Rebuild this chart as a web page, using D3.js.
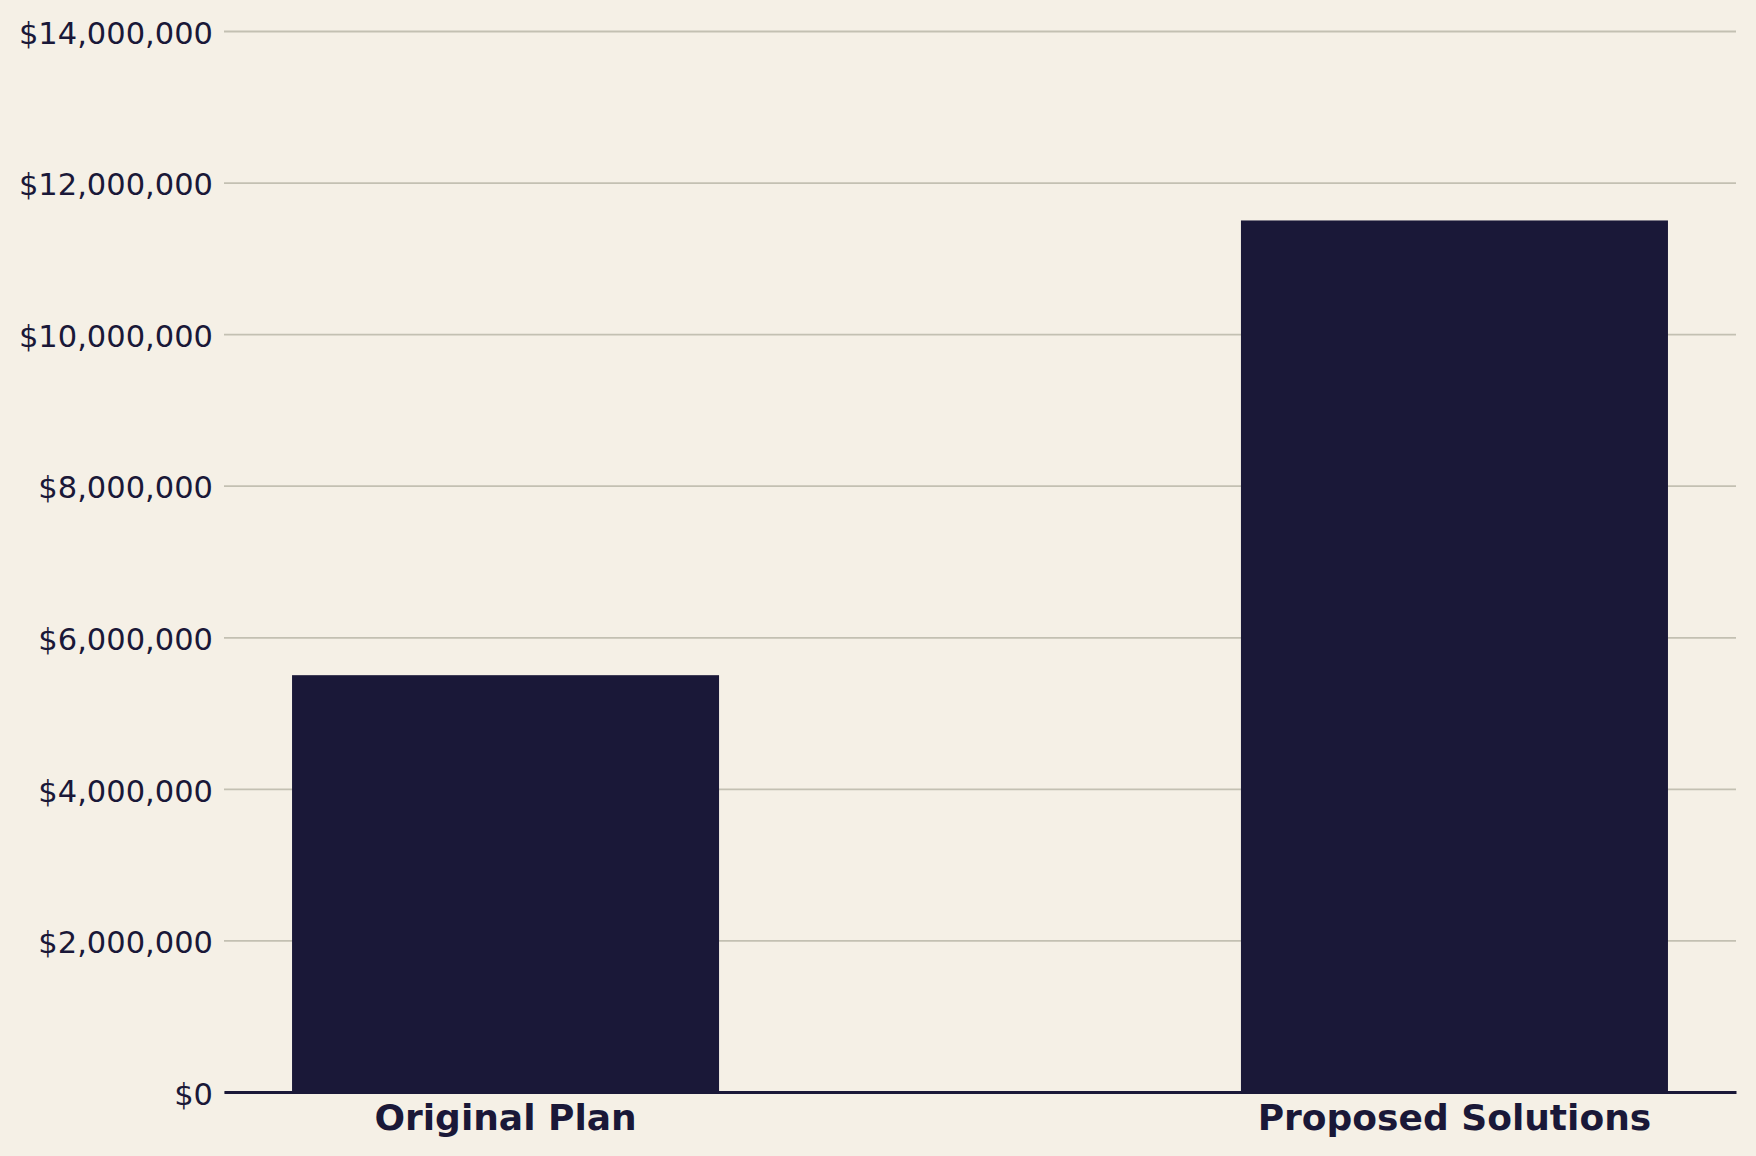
<!DOCTYPE html>
<html>
<head>
<meta charset="utf-8">
<script src="https://cdn.jsdelivr.net/npm/d3@7"></script>
<style>
	html, body { margin: 0; padding: 0; background: #f5f0e6; }
	svg { display: block; }
	.tick-label { font-family: "DejaVu Sans", sans-serif; font-size: 30.5px; fill: #1a1838; }
	.cat-label { font-family: "DejaVu Sans", sans-serif; font-size: 36px; font-weight: bold; fill: #1a1838; }
</style>
</head>
<body>
<div id="chart"></div>
<script>

	//Data
	var categories = ["Original Plan", "Proposed Solutions"];
	var values = [5500000, 11500000];
	var yTicks = [0, 2000000, 4000000, 6000000, 8000000, 10000000, 12000000, 14000000];

	///////////////////////////////////////////////////////////////////////////
	//////////////////// Set up and initiate svg containers ///////////////////
	///////////////////////////////////////////////////////////////////////////

	var totalWidth = 1756,
		totalHeight = 1156;
	var margin = { top: 31, right: 20, bottom: 64, left: 224 };
	var width = totalWidth - margin.left - margin.right;
	var height = totalHeight - margin.top - margin.bottom;

	var svg = d3.select("#chart").append("svg")
		.attr("width", totalWidth)
		.attr("height", totalHeight)
		.style("background", "#f5f0e6");

	var g = svg.append("g")
		.attr("transform", "translate(" + margin.left + "," + margin.top + ")");

	///////////////////////////////////////////////////////////////////////////
	/////////////////////////////// Scales ////////////////////////////////////
	///////////////////////////////////////////////////////////////////////////

	var x = d3.scaleBand()
		.domain(categories)
		.range([0, width])
		.paddingInner(0.55)
		.paddingOuter(0.0717);

	var y = d3.scaleLinear()
		.domain([0, 14000000])
		.range([height, 0]);

	var fmt = function(d) { return "$" + d3.format(",")(d); };

	///////////////////////////////////////////////////////////////////////////
	//////////////////////////// Grid and axes ////////////////////////////////
	///////////////////////////////////////////////////////////////////////////

	var yAxis = g.append("g")
		.call(d3.axisLeft(y).tickValues(yTicks).tickSize(-width).tickPadding(12).tickFormat(fmt));

	yAxis.select(".domain").remove();
	yAxis.selectAll(".tick line")
		.attr("stroke", "#c3c0b2")
		.attr("stroke-width", 1.8);
	yAxis.selectAll(".tick text")
		.attr("class", "tick-label")
		.attr("dy", "0.4em")
		.attr("x", -11);

	//Bars
	g.selectAll(".bar")
		.data(values)
		.enter().append("rect")
		.attr("class", "bar")
		.attr("x", function(d, i) { return x(categories[i]); })
		.attr("width", x.bandwidth())
		.attr("y", function(d) { return y(d); })
		.attr("height", function(d) { return height - y(d); })
		.attr("fill", "#1a1838");

	//Bottom axis line
	var xAxis = g.append("g")
		.attr("transform", "translate(0," + height + ")")
		.call(d3.axisBottom(x).tickSize(0).tickPadding(0));

	xAxis.select(".domain")
		.attr("stroke", "#1a1838")
		.attr("stroke-width", 2.8);
	xAxis.selectAll(".tick text")
		.attr("class", "cat-label")
		.attr("dy", null)
		.attr("y", 38);

</script>
</body>
</html>
